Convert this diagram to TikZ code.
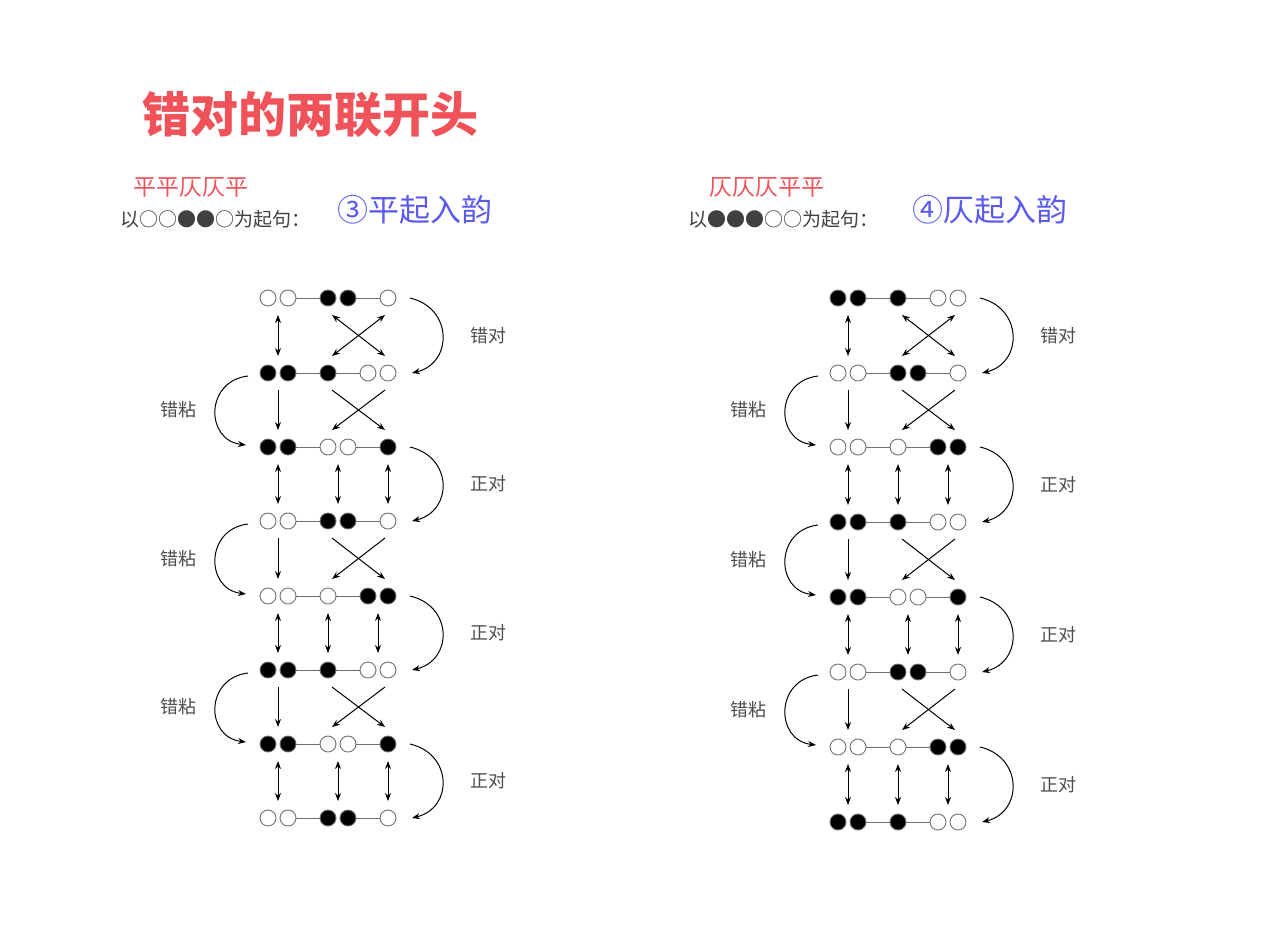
\documentclass[tikz,border=0pt]{standalone}
\usepackage{fontspec}
\setmainfont{Noto Sans CJK SC}
\usetikzlibrary{calc,arrows.meta}

\definecolor{titlered}{HTML}{F0525A}
\definecolor{headblue}{HTML}{5A5AF0}
\definecolor{linegray}{HTML}{707070}

% one row of five syllables: name, x, y, offset/fill list, start of second link
\newcommand{\sylrow}[5]{%
  \foreach \o/\f [count=\i] in {#4}{
    \node[syl, fill=\f] (#1-\i) at (#2+\o,#3) {};
  }
  \draw[link] (#1-2) -- (#1-3);
  \pgfmathtruncatemacro{\nxt}{#5+1}
  \draw[link] (#1-#5) -- (#1-\nxt);
}
% 错对: vertical and crossed double arrows, arc on the right
\newcommand{\cuodui}[2]{%
  \draw[dbl] ($(#1-1)!.5!(#1-2)$) -- ($(#2-1)!.5!(#2-2)$);
  \draw[cross] ($(#1-3)+(4,17)$) -- ($(#2-5)+(-3,-17)$);
  \draw[cross] ($(#1-5)+(-3,17)$) -- ($(#2-3)+(4,-17)$);
  \draw[arr] ($(#1-5)+(22,0)$) .. controls +(43,10) and +(41,-10) .. ($(#2-5)+(24,0)$);
  \node[lbl] (#1-lb) at ($(#1-5)!.5!(#2-5)+(100,0)$) {错对};
}
% 错粘: down arrow and single-headed cross, arc on the left
\newcommand{\cuozhan}[2]{%
  \draw[sgl] ($(#1-1)!.5!(#1-2)$) -- ($(#2-1)!.5!(#2-2)$);
  \draw[arr] ($(#1-3)+(4,17)$) -- ($(#2-5)+(-3,-17)$);
  \draw[arr] ($(#1-5)+(-3,17)$) -- ($(#2-3)+(4,-17)$);
  \draw[arr] ($(#1-1)+(-20,3)$) .. controls +(-43,5) and +(-41,-5) .. ($(#2-1)+(-22,-2)$);
  \node[lbl] (#1-lb) at ($(#1-1)!.5!(#2-1)+(-90,0)$) {错粘};
}
% 正对: three double arrows at the group centres
\newcommand{\zhengdui}[4]{%
  \draw[dbl] ($(#1-1)!.5!(#1-2)$) -- ($(#2-1)!.5!(#2-2)$);
  \draw[dbl] ($(#1-3)!#3!(#1-4)$) -- ($(#2-3)!#3!(#2-4)$);
  \draw[dbl] ($(#1-4)!#4!(#1-5)$) -- ($(#2-4)!#4!(#2-5)$);
  \draw[arr] ($(#1-5)+(22,0)$) .. controls +(43,10) and +(41,-10) .. ($(#2-5)+(24,0)$);
  \node[lbl] (#1-lb) at ($(#1-5)!.5!(#2-5)+(100,0)$) {正对};
}

\begin{document}
\begin{tikzpicture}[x=0.5pt, y=-0.5pt,
    syl/.style={circle, draw=linegray, line width=0.45pt, inner sep=0pt, minimum size=8pt},
    link/.style={draw=linegray, line width=0.5pt},
    cross/.style={{Stealth[length=4pt,width=3pt]}-{Stealth[length=4pt,width=3pt]}, line width=0.5pt},
    dbl/.style={cross, shorten >=8.5pt, shorten <=8.5pt},
    sgl/.style={-{Stealth[length=4pt,width=3pt]}, line width=0.5pt, shorten >=8.5pt, shorten <=8.5pt},
    arr/.style={-{Stealth[length=4pt,width=3pt]}, line width=0.5pt},
    lbl/.style={font=\fontsize{9}{10}\selectfont, text=black!70}]
  \useasboundingbox (0,0) rectangle (1274,928);

  % Headings
  \node[anchor=west, text=titlered, font=\fontsize{24}{26}\selectfont\bfseries] (title) at (135,115) {错对的两联开头};
  \node[anchor=west, text=titlered, font=\fontsize{11.5}{13}\selectfont] (lpat) at (126,187) {平平仄仄平};
  \node[anchor=west, text=black!75, font=\fontsize{9.5}{10}\selectfont] (lstart) at (113,219) {以○○●●○为起句：};
  \node[anchor=west, text=headblue, font=\fontsize{15.5}{17}\selectfont] (lhead) at (330,210) {③平起入韵};
  \node[anchor=west, text=titlered, font=\fontsize{11.5}{13}\selectfont] (rpat) at (702,187) {仄仄仄平平};
  \node[anchor=west, text=black!75, font=\fontsize{9.5}{10}\selectfont] (rstart) at (681,219) {以●●●○○为起句：};
  \node[anchor=west, text=headblue, font=\fontsize{15.5}{17}\selectfont] (rhead) at (905,210) {④仄起入韵};

  % Left chart
  \sylrow{L1}{268}{298}{0/white,20/white,60/black,80/black,120/white}{4}
  \sylrow{L2}{268}{373}{0/black,20/black,60/black,100/white,120/white}{3}
  \sylrow{L3}{268}{447}{0/black,20/black,60/white,80/white,120/black}{4}
  \sylrow{L4}{268}{521}{0/white,20/white,60/black,80/black,120/white}{4}
  \sylrow{L5}{268}{596}{0/white,20/white,60/white,100/black,120/black}{3}
  \sylrow{L6}{268}{670}{0/black,20/black,60/black,100/white,120/white}{3}
  \sylrow{L7}{268}{744}{0/black,20/black,60/white,80/white,120/black}{4}
  \sylrow{L8}{268}{818}{0/white,20/white,60/black,80/black,120/white}{4}
  \cuodui{L1}{L2}
  \cuozhan{L2}{L3}
  \zhengdui{L3}{L4}{.5}{1}
  \cuozhan{L4}{L5}
  \zhengdui{L5}{L6}{0}{.5}
  \cuozhan{L6}{L7}
  \zhengdui{L7}{L8}{.5}{1}

  % Right chart
  \sylrow{R1}{838}{298}{0/black,20/black,60/black,100/white,120/white}{3}
  \sylrow{R2}{838}{373}{0/white,20/white,60/black,80/black,120/white}{4}
  \sylrow{R3}{838}{447}{0/white,20/white,60/white,100/black,120/black}{3}
  \sylrow{R4}{838}{522}{0/black,20/black,60/black,100/white,120/white}{3}
  \sylrow{R5}{838}{597}{0/black,20/black,60/white,80/white,120/black}{4}
  \sylrow{R6}{838}{672}{0/white,20/white,60/black,80/black,120/white}{4}
  \sylrow{R7}{838}{747}{0/white,20/white,60/white,100/black,120/black}{3}
  \sylrow{R8}{838}{822}{0/black,20/black,60/black,100/white,120/white}{3}
  \cuodui{R1}{R2}
  \cuozhan{R2}{R3}
  \zhengdui{R3}{R4}{0}{.5}
  \cuozhan{R4}{R5}
  \zhengdui{R5}{R6}{.5}{1}
  \cuozhan{R6}{R7}
  \zhengdui{R7}{R8}{0}{.5}
\end{tikzpicture}
\end{document}
